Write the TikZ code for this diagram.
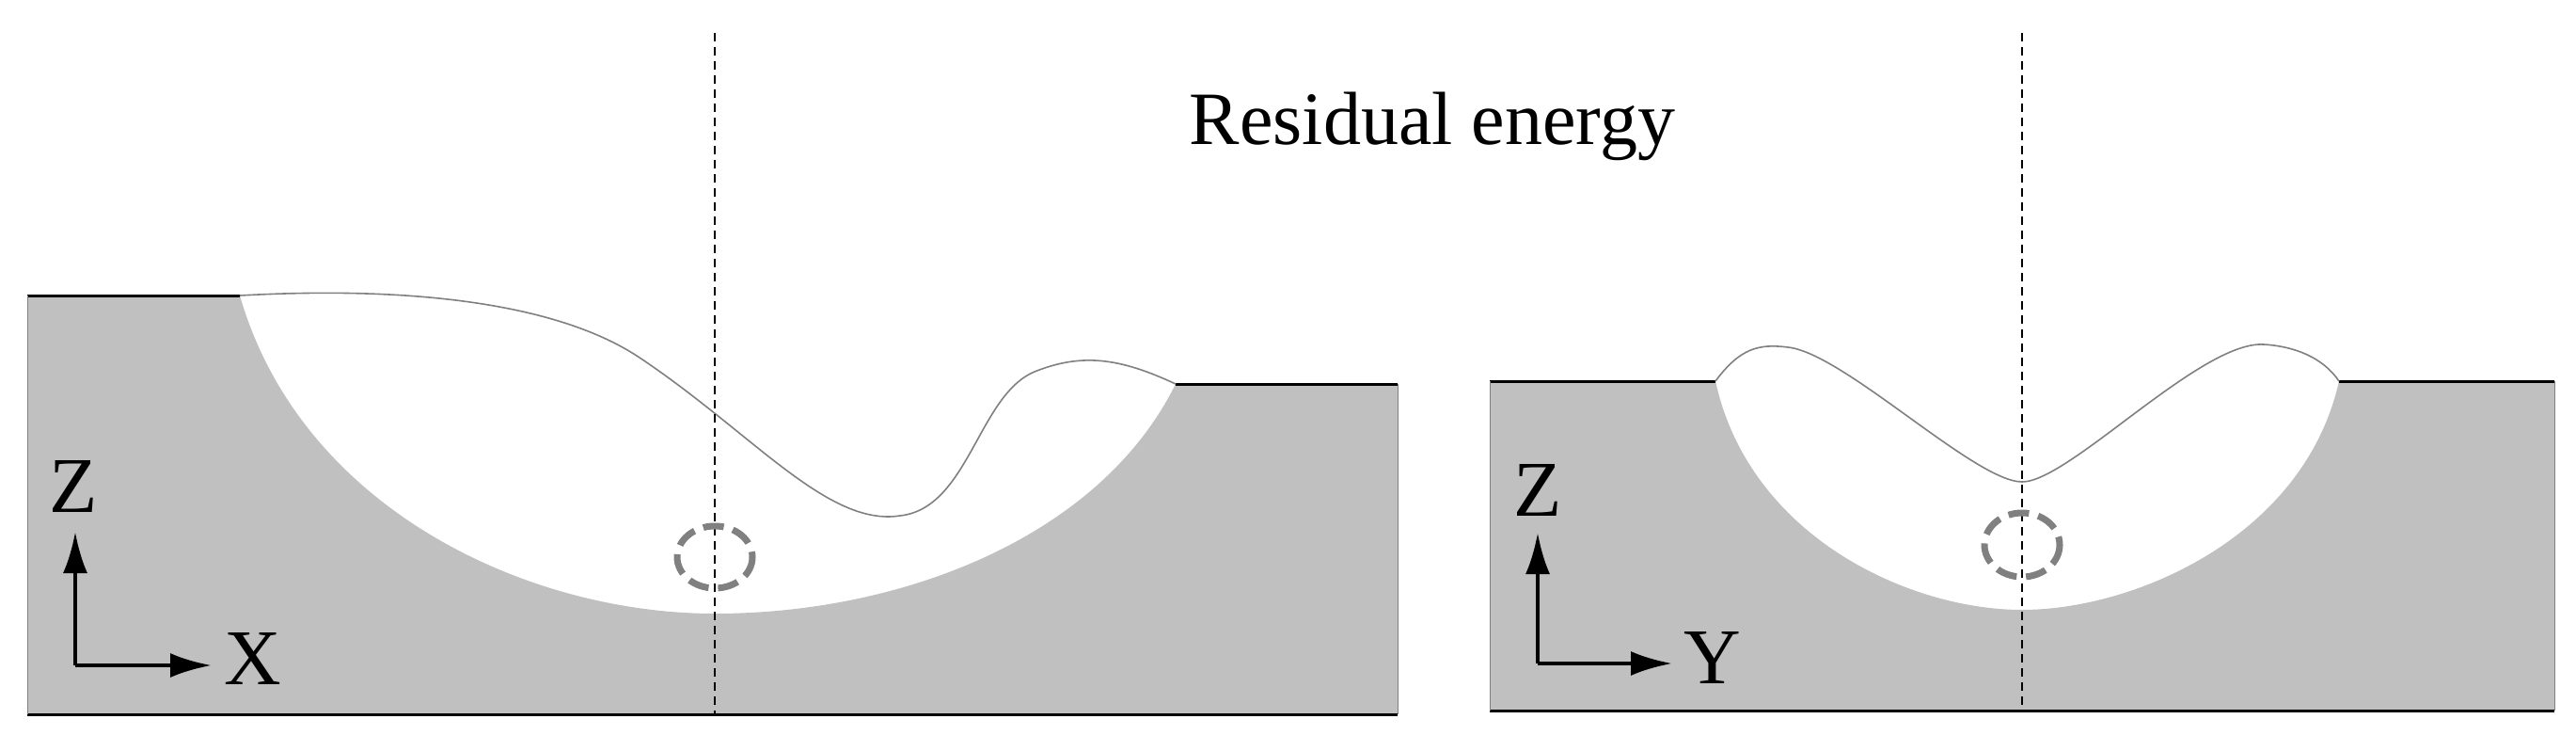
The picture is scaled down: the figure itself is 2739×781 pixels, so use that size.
\documentclass[tikz,border=0pt]{standalone}
\usepackage{fontspec}
\setmainfont{Liberation Serif}
\usetikzlibrary{arrows.meta}
\definecolor{groundgray}{RGB}{192,192,192}
\definecolor{ringgray}{RGB}{128,128,128}
\begin{document}
\begin{tikzpicture}[x=1pt,y=-1pt,
  ground/.style={fill=groundgray},
  edge/.style={line width=3pt,black},
  surf/.style={line width=1.6pt,gray},
  axis/.style={line width=4.5pt,-{Latex[length=44pt,width=26pt]}},
  ring/.style={line width=7pt,draw=ringgray,dash pattern=on 22pt off 10pt},
  cut/.style={line width=1.8pt,black,dash pattern=on 9pt off 6pt},
  lab/.style={font=\fontsize{84}{90}\selectfont,inner sep=0pt}]
\useasboundingbox (0,0) rectangle (2739,781);
% left block
\fill[ground] (29,314) -- (255,314) .. controls (320,540) and (560,652) .. (760,652) .. controls (960,652) and (1170,570) .. (1250,408) -- (1486,408) -- (1486,759) -- (29,759) -- cycle;
\draw[edge] (29,314) -- (255,314);
\draw[edge] (1250,408) -- (1486,408);
\draw[edge] (29,759) -- (1486,759);
\draw[line width=1pt,gray] (29,314) -- (29,759) (1486,408) -- (1486,759);
\draw[surf] (255,314) .. controls (330,310) and (560,300) .. (680,380) .. controls (800,460) and (880,560) .. (957,548) .. controls (1030,540) and (1040,420) .. (1100,395) .. controls (1150,375) and (1190,380) .. (1250,408);
% right block
\fill[ground] (1584,405) -- (1824,405) .. controls (1860,570) and (2030,648) .. (2150,648) .. controls (2270,648) and (2450,570) .. (2487,405) -- (2716,405) -- (2716,755) -- (1584,755) -- cycle;
\draw[edge] (1584,405) -- (1824,405);
\draw[edge] (2487,405) -- (2716,405);
\draw[edge] (1584,755) -- (2716,755);
\draw[line width=1pt,gray] (1584,405) -- (1584,755) (2716,405) -- (2716,755);
\draw[surf] (1824,405) .. controls (1850,370) and (1870,365) .. (1901,369) .. controls (1960,375) and (2100,512) .. (2150,512) .. controls (2200,512) and (2340,362) .. (2407,366) .. controls (2440,368) and (2470,380) .. (2487,405);
% dashed centre lines
\coordinate (c1t) at (760,35); \coordinate (c1b) at (760,759);
\coordinate (c2t) at (2150,35); \coordinate (c2b) at (2150,755);
\draw[cut] (c1t) -- (c1b);
\draw[cut] (c2t) -- (c2b);
% rings
\draw[ring] (760,592) ellipse [x radius=40, y radius=33];
\draw[ring] (2150,579) ellipse [x radius=40, y radius=34];
% axes
\coordinate (o1) at (80,707); \coordinate (z1) at (80,565); \coordinate (x1) at (225,707);
\draw[axis] (o1) -- (z1); \draw[axis] (o1) -- (x1);
\node[lab] (Z1) at (78,517) {Z};
\node[lab] (X1) at (269,700) {X};
\coordinate (o2) at (1635,705); \coordinate (z2) at (1635,566); \coordinate (y2) at (1778,705);
\draw[axis] (o2) -- (z2); \draw[axis] (o2) -- (y2);
\node[lab] (Z2) at (1635,521) {Z};
\node[lab] (Y2) at (1821,699) {Y};
\node[font=\fontsize{80}{86}\selectfont] (title) at (1523,134) {Residual energy};
\end{tikzpicture}
\end{document}
